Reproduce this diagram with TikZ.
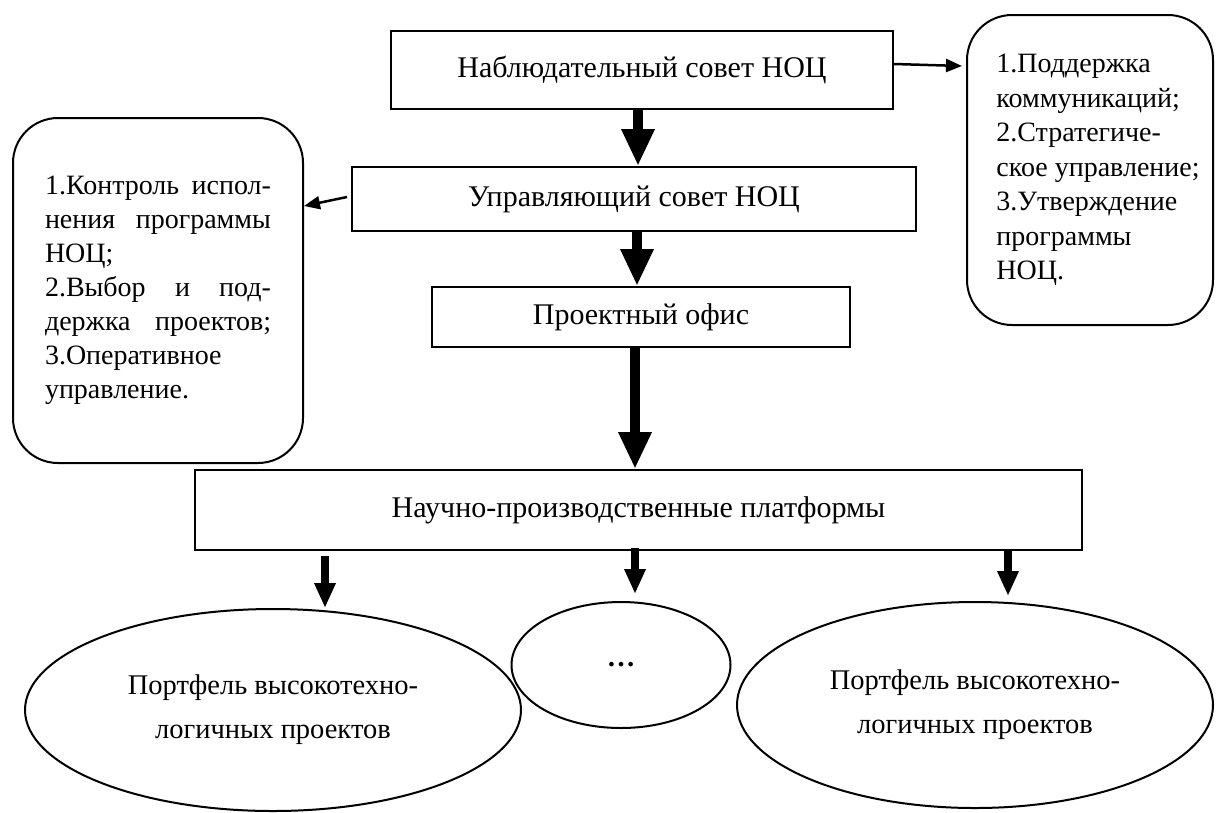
\documentclass[tikz,border=0pt]{standalone}
\usepackage{fontspec}
\setmainfont{Liberation Serif}
\usetikzlibrary{arrows.meta,shapes.geometric}
\begin{document}
\begin{tikzpicture}[x=1pt,y=-1pt,
  txt/.style={font=\fontsize{28}{34}\selectfont},
  box/.style={draw, line width=2pt, inner sep=0pt, font=\fontsize{30}{36}\selectfont},
  rbox/.style={draw, line width=2pt, rounded corners=45pt, inner sep=0pt, txt},
  ell/.style={draw, ellipse, line width=2pt, inner sep=0pt, align=center, font=\fontsize{28.5}{44}\selectfont},
  bigarr/.style={line width=10.5pt, -{Triangle[length=37pt,width=31pt]}},
  smallarr/.style={line width=8pt, -{Triangle[length=25pt,width=20pt]}},
  thinarr/.style={line width=2.5pt, -{Triangle[length=16pt,width=13pt]}}
]
\useasboundingbox (0,0) rectangle (1218,812);
\fill[white] (0,0) rectangle (1218,812);

\node[box, minimum width=502pt, minimum height=78pt] (b1) at (642,70) {Наблюдательный совет НОЦ};
\node[box, minimum width=564pt, minimum height=64pt] (b2) at (634,199) {Управляющий совет НОЦ};
\node[box, minimum width=418pt, minimum height=60pt] (b3) at (641,317) {Проектный офис};
\node[box, minimum width=887pt, minimum height=80pt] (b4) at (638.5,510) {Научно-производственные платформы};

\node[rbox, minimum width=290pt, minimum height=345pt] (l) at (158,290.5) {\raisebox{-4pt}{\parbox{226pt}{\fontsize{28}{34}\selectfont
\hbox to 226pt{1.Контроль\hfill испол-}
\hbox to 226pt{нения\hfill программы}
\hbox to 226pt{НОЦ;\hfill}
\hbox to 226pt{2.Выбор\hfill и\hfill под-}
\hbox to 226pt{держка\hfill проектов;}
\hbox to 226pt{3.Оперативное\hfill}
\hbox to 226pt{управление.\hfill}}}};

\node[rbox, minimum width=246pt, minimum height=310pt] (r) at (1090,170) {\hspace*{16pt}\raisebox{-6pt}{\parbox{206pt}{\fontsize{28}{34.5}\selectfont
\hbox{1.Поддержка}
\hbox{коммуникаций;}
\hbox{2.Стратегиче-}
\hbox{ское управление;}
\hbox{3.Утверждение}
\hbox{программы}
\hbox{НОЦ.}}}};

\node[ell, minimum width=496pt, minimum height=202pt] (e1) at (273,710) {Портфель высокотехно-\\логичных проектов};
\node[ell, minimum width=219pt, minimum height=126pt] (e2) at (621,665) {\textbf{…}};
\node[ell, minimum width=476pt, minimum height=206pt] (e3) at (975,705) {Портфель высокотехно-\\логичных проектов};

\draw[bigarr] (b1.south -| 638,0) -- (b2.north -| 638,0);
\draw[bigarr] (b2.south -| 637,0) -- (b3.north -| 637,0);
\draw[bigarr] (b3.south -| 635,0) -- (b4.north -| 635,0);

\draw[thinarr] ([xshift=-4pt,yshift=2pt]b2.west) -- (l.east |- 0,206);
\draw[thinarr] (b1.east |- 0,64) -- ([xshift=-4pt]r.west |- 0,66);

\draw[smallarr] ([yshift=-5pt]b4.south -| 325,0) -- (e1.north -| 325,0);
\draw[smallarr] ([yshift=3pt]b4.south -| 635,0) -- ([yshift=7pt]e2.north -| 635,0);
\draw[smallarr] ([yshift=2pt]b4.south -| 1008,0) -- ([yshift=5pt]e3.north -| 1008,0);
\end{tikzpicture}
\end{document}
